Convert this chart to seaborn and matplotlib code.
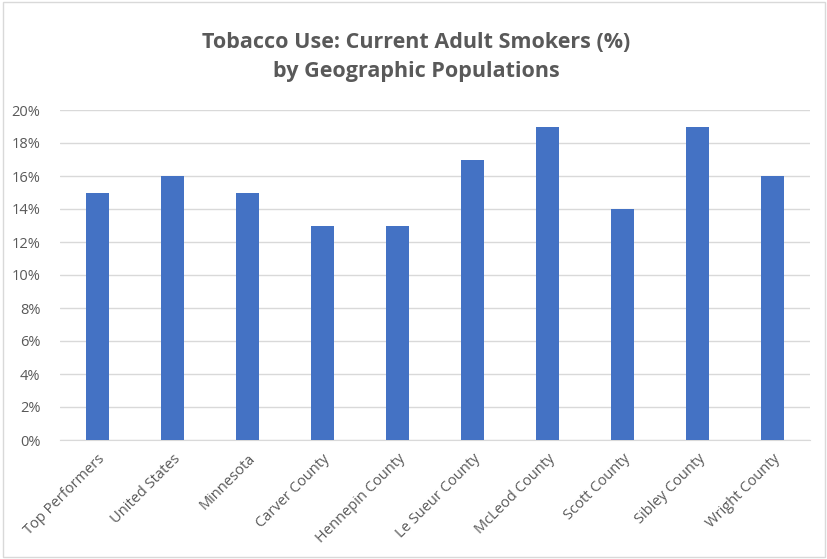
import matplotlib.pyplot as plt
import seaborn as sns
import pandas as pd
from matplotlib.patches import Rectangle
from matplotlib.ticker import FuncFormatter

categories = ["Top Performers", "United States", "Minnesota", "Carver County",
              "Hennepin County", "Le Sueur County", "McLeod County",
              "Scott County", "Sibley County", "Wright County"]
smokers_pct = [15, 16, 15, 13, 13, 17, 19, 14, 19, 16]
y_ticks = [0, 2, 4, 6, 8, 10, 12, 14, 16, 18, 20]

sns.set_style("white")
plt.rcParams["font.family"] = ["Open Sans", "DejaVu Sans"]

df = pd.DataFrame({"area": categories, "pct": smokers_pct})

fig = plt.figure(figsize=(8.28, 5.59), dpi=100)
ax = fig.add_axes([60 / 828, 1 - 440 / 559, 750 / 828, 330 / 559])
sns.barplot(data=df, x="area", y="pct", color="#4472C4", width=0.31,
            saturation=1, linewidth=0, ax=ax, zorder=3)

ax.set_ylim(0, 20)
ax.set_yticks(y_ticks)
ax.yaxis.set_major_formatter(FuncFormatter(lambda v, p: f"{v:.0f}%"))
ax.grid(axis="y", color="#D9D9D9", linewidth=1, zorder=0)
ax.set_xlabel("")
ax.set_ylabel("")
for s in ["left", "right", "top"]:
    ax.spines[s].set_visible(False)
ax.spines["bottom"].set_color("#D9D9D9")
ax.tick_params(axis="both", length=0, colors="#595959", labelsize=10.5)
ax.tick_params(axis="y", pad=14)
ax.tick_params(axis="x", pad=8)
plt.setp(ax.get_xticklabels(), rotation=45, ha="right", rotation_mode="anchor")

fig.text(0.503, 1 - 57 / 559, "Tobacco Use: Current Adult Smokers (%)\nby Geographic Populations",
         ha="center", va="center", fontsize=15.5, fontweight="bold",
         color="#595959", linespacing=1.5)

fig.patches.append(Rectangle((0.004, 0.004), 0.992, 0.992, transform=fig.transFigure,
                             fill=False, edgecolor="#D9D9D9", linewidth=1))

fig.savefig("out.png", dpi=100)
plt.close()
